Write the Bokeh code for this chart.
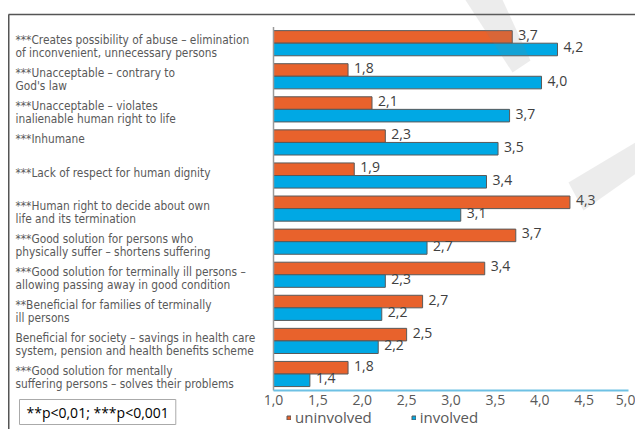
from bokeh.plotting import figure
from bokeh.models import (Range1d, FixedTicker, ColumnDataSource, Legend,
                          LegendItem, Label)
from bokeh.core.properties import value
from bokeh.embed import file_html
from bokeh.resources import INLINE

# ---------------- data ----------------
categories = [
    "***Creates possibility of abuse – elimination\nof inconvenient, unnecessary persons",
    "***Unacceptable – contrary to\nGod's law",
    "***Unacceptable – violates\ninalienable  human right to life",
    "***Inhumane",
    "***Lack of respect for human dignity",
    "***Human right to decide about own\nlife and its termination",
    "***Good solution for persons who\nphysically suffer – shortens suffering",
    "***Good solution for terminally ill persons –\nallowing passing away in good condition",
    "**Beneficial for families of terminally\nill persons",
    "Beneficial for society – savings in health care\nsystem, pension and health benefits scheme",
    "***Good solution for mentally\nsuffering persons – solves their problems",
]
uninvolved = [3.69, 1.84, 2.11, 2.26, 1.91, 4.34, 3.73, 3.38, 2.68, 2.50, 1.84]
involved = [4.20, 4.02, 3.66, 3.53, 3.40, 3.11, 2.73, 2.26, 2.22, 2.18, 1.41]
series_names = ["uninvolved", "involved"]
tick_values = [1.0, 1.5, 2.0, 2.5, 3.0, 3.5, 4.0, 4.5, 5.0]
tick_labels = ["1,0", "1,5", "2,0", "2,5", "3,0", "3,5", "4,0", "4,5", "5,0"]
footnote = "**p<0,01; ***p<0,001"

# ---------------- geometry helpers ----------------
PX_PER_X = 88.75
PX_PER_Y = 33.08
W, H = 635, 429
AXIS_PY = 390
X0 = 1 - 273 / PX_PER_X
X1 = X0 + W / PX_PER_X
YTOP = -42.7 / PX_PER_Y
YBOT = YTOP + H / PX_PER_Y


def px2x(px):  # picture pixel -> data x
    return X0 + px / PX_PER_X


def py2y(py):  # picture pixel -> data y
    return YTOP + py / PX_PER_Y


ORANGE = "#E8622C"
BLUE = "#00A8E4"
EDGE = "#595959"
TXT = "#595959"
FONT = "Open Sans"
NARROW = "Liberation Sans Narrow, DejaVu Sans Condensed, Roboto Condensed, Liberation Sans"

p = figure(frame_width=W, frame_height=H,
           x_range=Range1d(X0, X1), y_range=Range1d(YBOT, YTOP),
           output_backend="svg", toolbar_location=None,
           y_axis_location=None, min_border=0)
p.xgrid.visible = False
p.ygrid.visible = False
p.outline_line_color = None
p.background_fill_color = "white"
p.border_fill_color = "white"

rows = list(range(len(categories)))
bh = 0.38
src = ColumnDataSource(dict(
    y_u=[r - bh / 2 for r in rows], y_i=[r + bh / 2 for r in rows],
    u=uninvolved, i=involved,
    u_lab=[f"{v:.1f}".replace(".", ",") for v in uninvolved],
    i_lab=[f"{v:.1f}".replace(".", ",") for v in involved],
))

r_u = p.hbar(y="y_u", left=1, right="u", height=bh, source=src,
             fill_color=ORANGE, line_color=EDGE, line_width=1)
r_i = p.hbar(y="y_i", left=1, right="i", height=bh, source=src,
             fill_color=BLUE, line_color=EDGE, line_width=1)

for col, ycol, lab in (("u", "y_u", "u_lab"), ("i", "y_i", "i_lab")):
    p.text(x=col, y=ycol, text=lab, source=src, x_offset=6, y_offset=-2,
           text_baseline="middle", text_align="left",
           text_font=value(FONT), text_font_size="14px", text_color="#404040")

# category labels (left, multi-line)
lx, ly, lt, loff = [], [], [], []
for r, c in zip(rows, categories):
    for k, line in enumerate(c.split("\n")):
        lx.append(px2x(15))
        ly.append(r)
        lt.append(line)
        loff.append(-3 + 13 * k)
p.text(x=lx, y=ly, text=lt, y_offset=loff, text_baseline="middle",
       text_align="left", text_font=value(NARROW), text_font_size="11.8px",
       text_color=TXT)

# vertical axis line at 1.0
p.segment(x0=[1], y0=[py2y(26.5)], x1=[1], y1=[py2y(AXIS_PY)],
          line_color="#9a9a9a", line_width=1.5)

# frame of the figure (top + left border)
p.segment(x0=[px2x(8)], y0=[py2y(14)], x1=[X1], y1=[py2y(14)],
          line_color="#555555", line_width=1.5)
p.segment(x0=[px2x(8.25)], y0=[py2y(14)], x1=[px2x(8.25)], y1=[YBOT],
          line_color="#555555", line_width=1.5)

# watermark bands
p.patches(xs=[[px2x(462), px2x(500), px2x(530), px2x(512)],
              [px2x(568), px2x(640), px2x(640), px2x(583)]],
          ys=[[py2y(-5), py2y(-5), py2y(60), py2y(72)],
              [py2y(182), py2y(139), py2y(170), py2y(210)]],
          fill_color="#7f7f7f", fill_alpha=0.15, line_color=None,
          level="overlay")

# x axis (kept in the "below" panel, drawn at a fixed location)
ax = p.xaxis[0]
ax.fixed_location = py2y(AXIS_PY)
ax.ticker = FixedTicker(ticks=tick_values)
ax.major_label_overrides = dict(zip(tick_values, tick_labels))
ax.bounds = (1, 5)
ax.axis_line_color = "#6EC1E4"
ax.axis_line_width = 2
ax.major_tick_line_color = None
ax.minor_tick_line_color = None
ax.major_label_standoff = -2
ax.major_label_text_font = FONT
ax.major_label_text_font_size = "14px"
ax.major_label_text_color = TXT

legend = Legend(items=[LegendItem(label=series_names[0], renderers=[r_u]),
                       LegendItem(label=series_names[1], renderers=[r_i])],
                orientation="horizontal", location=(286, 2),
                glyph_width=5, glyph_height=5, label_standoff=4, spacing=39,
                label_text_font=FONT, label_text_font_size="15px",
                label_text_color=TXT, border_line_color=None,
                background_fill_alpha=0, padding=0, margin=0,
                label_height=16)
p.add_layout(legend)

p.add_layout(Label(x=19, y=H - 411.5, x_units="screen", y_units="screen",
                   text=footnote, text_baseline="middle", text_font=FONT,
                   text_font_size="14px", text_color="black",
                   border_line_color="#aaaaaa", background_fill_color="white",
                   padding=dict(x=7, y=3)))

open("out.html", "w").write(file_html(p, INLINE))
